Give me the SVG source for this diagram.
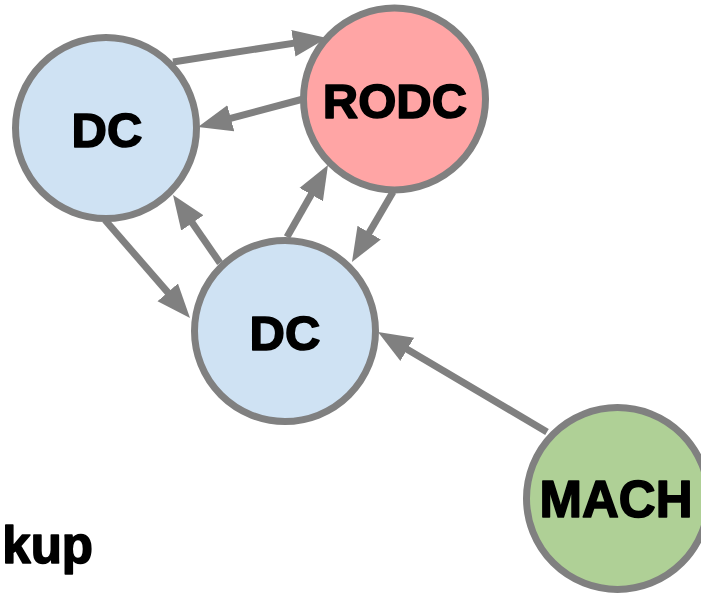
<svg xmlns="http://www.w3.org/2000/svg" width="701" height="594" viewBox="0 0 701 594">
  <style>
    .node { stroke: #808080; stroke-width: 7; }
    .dc { fill: #cfe2f3; }
    .rodc { fill: #ffa5a5; }
    .mach { fill: #afd096; }
    .label { font-family: "Liberation Sans", Arial, sans-serif; font-weight: bold; font-size: 49px; fill: #000; stroke: #000; stroke-width: 1.6; stroke-linejoin: round; text-anchor: middle; }
    .edge { stroke: #808080; stroke-width: 7; fill: none; marker-end: url(#arrow); }
  </style>
  <defs>
    <marker id="arrow" markerUnits="userSpaceOnUse" markerWidth="36" markerHeight="30" refX="14" refY="14" orient="auto">
      <path d="M0,0.5 L34,14 L0,27.5 z" fill="#808080"/>
    </marker>
  </defs>
  <rect width="701" height="594" fill="#ffffff"/>

  <g id="connectors">
    <line class="edge" x1="173" y1="62" x2="307.2" y2="41.1"/>
    <line class="edge" x1="307" y1="98" x2="217.3" y2="121.9"/>
    <line class="edge" x1="220" y1="263" x2="184.4" y2="211.4"/>
    <line class="edge" x1="287" y1="237" x2="318.1" y2="182.4"/>
    <line class="edge" x1="393" y1="192" x2="362.1" y2="244.7"/>
    <line class="edge" x1="105" y1="220" x2="176.9" y2="302.9"/>
    <line class="edge" x1="547" y1="432" x2="395.2" y2="342.2"/>
  </g>

  <g id="dc-top">
    <circle class="node dc" cx="106" cy="128" r="90.5"/>
    <text class="label" x="107" y="147">DC</text>
  </g>
  <g id="rodc">
    <circle class="node rodc" cx="394.5" cy="99" r="91"/>
    <text class="label" x="395" y="118">RODC</text>
  </g>
  <g id="dc-bottom">
    <circle class="node dc" cx="285" cy="331" r="90.5"/>
    <text class="label" x="285" y="350">DC</text>
  </g>
  <g id="mach">
    <circle class="node mach" cx="617.5" cy="498.5" r="91"/>
    <text class="label" x="616" y="517" style="font-size:51px">MACH</text>
  </g>

  <text class="label" x="93" y="563" style="text-anchor:end;font-size:51px">kup</text>
</svg>
